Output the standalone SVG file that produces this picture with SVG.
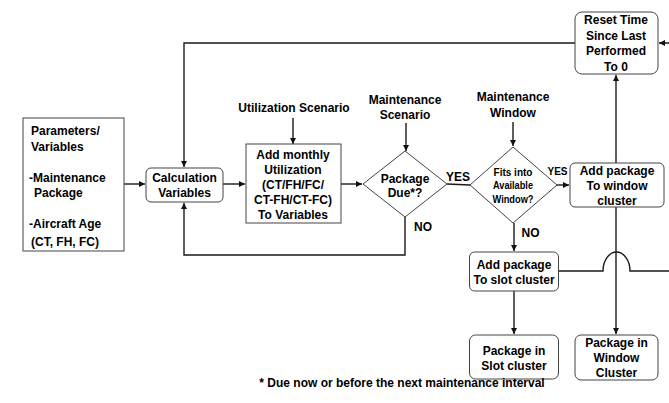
<svg xmlns="http://www.w3.org/2000/svg" width="669" height="403" viewBox="0 0 669 403">
<defs>
<marker id="ah" viewBox="0 0 10 10" refX="10" refY="5" markerWidth="6" markerHeight="6" markerUnits="userSpaceOnUse" orient="auto">
<path d="M0,0 L10,5 L0,10 z" fill="#111"/>
</marker>
</defs>
<style>
text{font-family:"Liberation Sans",Arial,sans-serif;font-weight:bold;font-size:12px;fill:#000;text-anchor:middle}
.l{text-anchor:start}
.s{font-size:10px}
.box{fill:#fff;stroke:#444;stroke-width:1}
.c{fill:none;stroke:#1a1a1a;stroke-width:1.4}
.a{marker-end:url(#ah)}
</style>
<rect width="669" height="403" fill="#fff"/>
<g id="connectors">
<path class="c a" d="M124,184 H145"/>
<path class="c a" d="M223,184 H245"/>
<path class="c a" d="M293,118 V144"/>
<path class="c a" d="M341,184 H362"/>
<path class="c a" d="M406,123 V151"/>
<path class="c" d="M447,184 L470,185"/>
<path class="c a" d="M405,217 V255 H184 V203"/>
<path class="c a" d="M575,43 H184 V167"/>
<path class="c a" d="M513,122 V146"/>
<path class="c a" d="M557,185 H569"/>
<path class="c a" d="M514,223 V251"/>
<path class="c a" d="M616,163 V75"/>
<path class="c a" d="M616,207 V334"/>
<path class="c a" d="M514,291 V334"/>
<path class="c a" d="M558,271 H603 A13.5,19 0 0 1 630,271 H690 V43 H659"/>
</g>
<g id="params">
<rect class="box" x="23" y="118" width="101" height="133"/>
<text class="l" x="31" y="135">Parameters/</text>
<text class="l" x="31" y="151">Variables</text>
<text class="l" x="29" y="182">-Maintenance</text>
<text class="l" x="34" y="197">Package</text>
<text class="l" x="29" y="228">-Aircraft Age</text>
<text class="l" x="31" y="246">(CT, FH, FC)</text>
</g>
<g id="calc">
<rect class="box" x="146" y="168" width="77" height="34" rx="5"/>
<text x="184.5" y="182">Calculation</text>
<text x="184.5" y="197">Variables</text>
</g>
<g id="util-scenario">
<text x="294" y="112">Utilization Scenario</text>
</g>
<g id="add-monthly">
<rect class="box" x="246" y="144" width="95" height="79"/>
<text x="293" y="158.5">Add monthly</text>
<text x="293" y="173.5">Utilization</text>
<text x="293" y="188.5">(CT/FH/FC/</text>
<text x="293" y="203.5">CT-FH/CT-FC)</text>
<text x="293" y="219">To Variables</text>
</g>
<g id="maint-scenario">
<text x="405" y="103.5">Maintenance</text>
<text x="405" y="118.5">Scenario</text>
</g>
<g id="package-due">
<polygon class="box" points="405,151 447,184 405,217 363,184"/>
<text x="405" y="182.5">Package</text>
<text x="405" y="197">Due*?</text>
</g>
<g id="yes1"><text x="458" y="181">YES</text></g>
<g id="no1"><text x="423" y="231">NO</text></g>
<g id="maint-window">
<text x="513" y="101">Maintenance</text>
<text x="513" y="116.5">Window</text>
</g>
<g id="fits">
<polygon class="box" points="513,147 557,185 513,223 470,185"/>
<text class="s" x="513" y="175.5" textLength="39" lengthAdjust="spacingAndGlyphs">Fits into</text>
<text class="s" x="513" y="189" textLength="40" lengthAdjust="spacingAndGlyphs">Available</text>
<text class="s" x="513" y="203" textLength="41" lengthAdjust="spacingAndGlyphs">Window?</text>
</g>
<g id="yes2"><text class="s" x="557.5" y="175">YES</text></g>
<g id="no2"><text x="530.5" y="237">NO</text></g>
<g id="reset">
<rect class="box" x="575" y="12" width="83" height="62" rx="7"/>
<text x="616" y="24">Reset Time</text>
<text x="616" y="40">Since Last</text>
<text x="616" y="55">Performed</text>
<text x="616" y="71">To 0</text>
</g>
<g id="window-add">
<rect class="box" x="570" y="163" width="94" height="44" rx="5"/>
<text x="617" y="174.5">Add package</text>
<text x="617" y="189.5">To window</text>
<text x="617" y="204.5">cluster</text>
</g>
<g id="slot-add">
<rect class="box" x="469.5" y="252" width="89" height="39" rx="5"/>
<text x="514" y="268.5">Add package</text>
<text x="514" y="283.5">To slot cluster</text>
</g>
<g id="slot-pkg">
<rect class="box" x="469.5" y="335" width="89" height="44" rx="6"/>
<text x="514" y="354.5">Package in</text>
<text x="514" y="370">Slot cluster</text>
</g>
<g id="window-pkg">
<rect class="box" x="575" y="335" width="83" height="45" rx="6"/>
<text x="616.5" y="346.5">Package in</text>
<text x="616.5" y="361.5">Window</text>
<text x="616.5" y="377">Cluster</text>
</g>
<g id="footnote">
<text x="402" y="387">* Due now or before the next maintenance interval</text>
</g>
</svg>
